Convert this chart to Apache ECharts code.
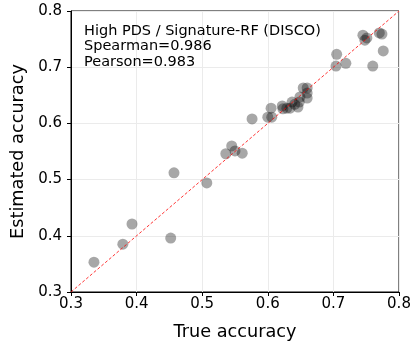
<!DOCTYPE html>
<html>
<head>
<meta charset="utf-8">
<script src="https://cdn.jsdelivr.net/npm/echarts@6/dist/echarts.min.js"></script>
<style>html,body{margin:0;padding:0;background:#fff}#c{width:414px;height:341px}</style>
</head>
<body>
<div id="c"></div>
<script>
var trueAcc = [0.335,0.379,0.393,0.452,0.457,0.507,0.536,0.545,0.550,0.561,0.576,
  0.605,0.600,0.606,0.622,0.623,0.629,0.634,0.637,0.641,0.646,0.648,0.649,0.654,0.660,0.660,0.660,
  0.704,0.705,0.719,0.745,0.751,0.748,0.760,0.770,0.774,0.776];
var estAcc = [0.353,0.385,0.421,0.396,0.512,0.494,0.546,0.560,0.551,0.547,0.608,
  0.627,0.611,0.611,0.631,0.626,0.627,0.627,0.638,0.634,0.629,0.638,0.647,0.663,0.663,0.654,0.645,
  0.702,0.723,0.707,0.757,0.752,0.748,0.702,0.761,0.759,0.729];
var ticks = [0.3,0.4,0.5,0.6,0.7,0.8];
var annotation = ["High PDS / Signature-RF (DISCO)","Spearman=0.986","Pearson=0.983"];

var pts = trueAcc.map(function(v,i){return [v, estAcc[i]];});
var font = "DejaVu Sans";
function axis(name, gap, margin){
  return {
    type:'value', min:ticks[0], max:ticks[ticks.length-1], interval:0.1,
    name:name, nameLocation:'middle', nameGap:gap,
    nameTextStyle:{fontFamily:font,fontSize:17.7,color:'#000'},
    axisLine:{show:true,lineStyle:{color:'#000',width:1}},
    axisTick:{show:true,inside:false,length:4,lineStyle:{color:'#000'}},
    axisLabel:{fontFamily:font,fontSize:15,color:'#000',margin:margin,
      formatter:function(v){return v.toFixed(1);}},
    splitLine:{show:true,lineStyle:{color:'#ebebeb',width:1}}
  };
}
var chart = echarts.init(document.getElementById('c'));
chart.setOption({
  animation:false,
  grid:{left:71,right:15,top:11,bottom:49,show:true,borderColor:'#000',borderWidth:1,
    backgroundColor:'transparent',containLabel:false,outerBoundsMode:'none'},
  xAxis: axis('True accuracy', 31, 5),
  yAxis: axis('Estimated accuracy', 44, 9),
  title:{text:annotation.join('\n'),left:79,top:18,
    textStyle:{fontFamily:font,fontSize:14.5,fontWeight:'normal',color:'#000',lineHeight:15.5}},
  series:[
    {type:'line',data:[[ticks[0],ticks[0]],[ticks[5],ticks[5]]],symbol:'none',
     lineStyle:{color:'#ff0000',width:0.8,type:[3,2]},z:3},
    {type:'scatter',data:pts,symbolSize:11,
     itemStyle:{color:'rgba(0,0,0,0.43)'},z:2}
  ]
});
</script>
</body>
</html>
